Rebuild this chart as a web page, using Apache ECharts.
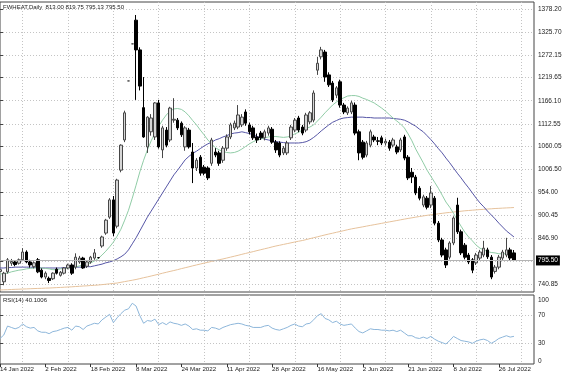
<!DOCTYPE html>
<html><head><meta charset="utf-8">
<script src="https://cdn.jsdelivr.net/npm/echarts@6/dist/echarts.min.js"></script>
<style>html,body{margin:0;padding:0;background:#fff}#c{width:564px;height:376px}</style>
</head><body><div id="c"></div>
<script>
const symbolTitle = 'FWHEAT,Daily  813.00 819.75 795.13 795.50';
const rsiTitle = 'RSI(14) 40.1006';
const holidays = ['2022-01-17','2022-04-15','2022-05-30','2022-06-20','2022-07-04'];
const tickLabels = ['14 Jan 2022','2 Feb 2022','18 Feb 2022','8 Mar 2022','24 Mar 2022','11 Apr 2022','28 Apr 2022','16 May 2022','2 Jun 2022','21 Jun 2022','8 Jul 2022','26 Jul 2022'];
const priceLabels = [740.85, 846.90, 900.45, 954.00, 1006.50, 1060.05, 1112.55, 1166.10, 1219.65, 1272.15, 1325.70, 1378.20];
const priceGrid = [740.85, 793.35, 846.90, 900.45, 954.00, 1006.50, 1060.05, 1112.55, 1166.10, 1219.65, 1272.15, 1325.70, 1378.20];
const rsiLabels = [0, 30, 70, 100];
const rsiLevels = [30, 70];
const lastPrice = 795.50;

const open = [770,746,769,789,792,789,797,815,792,781,797,773,757,754,753,775,761,766,778,785,780,792,801,782,792,801,802,829,859,896,936,875,1005,1075,1212,1298,1353,1284,1150,1059,1094,1082,1161,1052,1098,1075,1121,1121,1114,1059,1098,1047,1010,1035,1012,1010,1021,1047,1045,1028,1056,1082,1103,1105,1110,1140,1110,1103,1082,1091,1080,1091,1100,1070,1068,1045,1045,1080,1098,1126,1105,1098,1117,1121,1237,1268,1279,1226,1207,1179,1210,1156,1138,1140,1156,1094,1070,1040,1063,1082,1073,1080,1068,1070,1063,1059,1052,1082,1035,1000,989,963,924,940,924,940,882,843,820,803,836,924,862,831,808,797,790,801,808,820,803,770,780,801,808,820,813];
const high = [780,769,801,799,795,800,824,819,797,793,801,777,770,758,768,779,771,780,788,789,812,806,804,795,806,822,803,853,892,940,945,985,1065,1143,1212,1298,1365,1290,1221,1130,1135,1163,1168,1108,1105,1152,1172,1126,1118,1107,1103,1068,1033,1040,1017,1014,1080,1056,1050,1061,1088,1115,1120,1156,1135,1146,1115,1108,1090,1096,1099,1108,1105,1075,1072,1061,1073,1110,1126,1131,1110,1138,1142,1190,1268,1291,1284,1232,1212,1200,1215,1161,1153,1166,1162,1099,1075,1073,1099,1087,1082,1085,1078,1075,1080,1064,1080,1087,1040,1010,994,968,948,945,968,945,887,848,825,840,898,941,867,836,813,801,813,820,841,825,808,785,808,820,848,825,819.75];
const low = [762,738,765,783,782,786,794,789,779,777,766,754,752,743,750,763,758,763,775,762,775,788,776,778,788,797,800,825,855,892,852,870,1000,1070,1212,1298,1168,1190,1080,1045,1085,1075,1055,1033,1058,1070,1115,1098,1082,1050,1055,975,1003,992,993,982,1015,1035,1015,1022,1050,1077,1098,1100,1105,1108,1088,1075,1068,1075,1074,1085,1066,1045,1035,1040,1040,1075,1093,1093,1086,1093,1112,1116,1226,1262,1210,1198,1163,1172,1150,1135,1133,1135,1086,1028,1030,1035,1058,1070,1063,1063,1062,1050,1058,1042,1047,1028,982,975,947,935,919,914,917,877,838,803,778,798,831,857,808,798,787,766,785,796,803,799,752,765,775,796,803,796,795.13];
const close = [774,766,797,793,786,797,815,792,785,790,769,757,766,749,766,766,768,778,785,766,803,801,778,792,803,813,802,850,889,936,859,982,1063,1138,1212,1298,1284,1200,1082,1128,1126,1161,1059,1103,1063,1149,1123,1103,1087,1103,1059,1010,1028,998,998,987,1075,1040,1021,1056,1082,1110,1114,1133,1128,1114,1094,1080,1075,1080,1094,1103,1070,1052,1040,1056,1068,1105,1121,1098,1091,1133,1138,1184,1253,1284,1221,1203,1168,1196,1156,1140,1149,1161,1091,1045,1035,1068,1094,1075,1072,1068,1072,1056,1075,1047,1075,1033,987,989,952,940,943,919,952,882,843,808,785,836,894,862,813,803,792,773,808,815,824,804,757,780,803,815,820,801,795.5];
const maFast = [764,765,766,769,771,773,774,776,777,778,778,778,777,776,774,774,776,777,778,779,780,783,785,787,790,794,800,808,817,827,838,852,868,889,912,940,970,1001,1028,1052,1073,1091,1107,1121,1133,1142,1147,1148,1146,1140,1131,1120,1110,1098,1087,1075,1066,1057,1052,1048,1046,1045,1046,1049,1054,1060,1066,1071,1075,1077,1080,1082,1083,1083,1082,1081,1082,1084,1089,1093,1098,1102,1105,1110,1119,1128,1138,1147,1156,1163,1169,1173,1177,1178,1178,1176,1172,1169,1165,1161,1155,1149,1142,1134,1126,1119,1112,1103,1089,1073,1054,1038,1022,1005,991,977,963,947,931,919,905,889,875,861,850,841,831,824,820,816,814,813,811,811,811,813,813];
const maMid = [778,778,779,779,780,780,780,780,780,779,779,778,778,778,778,778,778,779,779,779,780,780,780,781,781,783,785,787,790,792,795,799,804,810,820,834,848,864,880,896,910,924,938,952,966,980,994,1005,1017,1029,1037,1044,1049,1055,1061,1066,1070,1075,1078,1082,1085,1089,1091,1092,1094,1092,1090,1087,1083,1080,1077,1075,1073,1071,1070,1069,1068,1068,1068,1068,1069,1071,1075,1081,1088,1096,1103,1110,1116,1120,1124,1126,1127,1128,1128,1128,1128,1127,1127,1126,1126,1126,1126,1126,1125,1124,1123,1121,1117,1112,1107,1100,1094,1085,1076,1066,1055,1045,1033,1022,1010,998,987,975,964,952,940,929,920,910,901,892,882,873,864,857,850];
const maSlow = [726.9,727.4,727.6,728.1,728.5,728.8,729.2,729.5,729.9,730.2,730.6,730.8,731.3,731.5,732,732.5,732.9,733.4,733.9,734.3,735,735.5,736.2,736.6,737.3,737.8,738.5,739.4,740.3,741.3,742.2,743.1,744.8,746.4,748,749.6,751.3,753.3,755.4,757.3,759.4,761.5,763.6,765.9,768,770.1,772.1,774.2,776.5,778.6,780.7,783,785.1,787.2,789.3,791.2,793.3,795.1,797.2,799,801.1,803.2,805.3,807.4,809.7,811.8,813.9,816,818.3,820.4,822.5,824.6,826.9,829,830.8,832.7,834.5,836.4,838.3,840.1,841.7,843.8,846.1,848.2,850.3,852.6,854.7,856.8,858.7,860.8,862.6,864.7,866.8,868.7,870.3,871.9,873.5,875.2,876.8,878.4,880,881.6,883.3,884.9,886.5,888.1,889.8,891.4,893,894.4,896,897.4,898.8,900.2,901.4,902.5,903.7,904.8,906,906.9,907.9,908.8,909.7,910.7,911.4,912.1,912.8,913.5,914.1,914.8,915.3,916,916.4,916.9,917.4,917.8,918.3];
const rsi = [37,42,55,53,51,53,58,54,52,53,48,46,46,44,47,48,50,52,53,49,55,54,50,55,57,59,58,64,68,72,60,67,73,78,80,88,84,70,59,63,62,65,57,60,57,61,59,58,56,58,55,50,51,49,49,48,53,52,50,53,55,57,58,59,58,56,55,53,53,53,55,56,52,50,49,51,53,56,58,55,54,58,59,64,70,73,66,64,60,62,58,56,57,58,52,47,45,48,51,50,50,49,49,48,49,47,49,45,41,41,38,37,39,37,40,36,33,31,29,34,40,37,34,33,32,30,33,35,36,34,30,33,37,39,41,39,40.1006];

// trading calendar of the bars
const MON = ['Jan','Feb','Mar','Apr','May','Jun','Jul','Aug','Sep','Oct','Nov','Dec'];
const dates = [];
(function(){
  const d = new Date(Date.UTC(2022,0,14));
  while (dates.length < close.length) {
    const dow = d.getUTCDay(), iso = d.toISOString().slice(0,10);
    if (dow !== 0 && dow !== 6 && holidays.indexOf(iso) < 0)
      dates.push(d.getUTCDate() + ' ' + MON[d.getUTCMonth()] + ' ' + d.getUTCFullYear());
    d.setUTCDate(d.getUTCDate() + 1);
  }
})();
const tickIdx = tickLabels.map(t => dates.indexOf(t));
const gridIdx = tickIdx.map(i => i + 6);

const FONT = '"Liberation Sans", Arial, sans-serif';
const GRIDLINE = {show: true, lineStyle: {color: '#c4c4c4', width: 1, type: [1, 2]}};
const X_MIN = 0, X_MAX = 141.3;
const candles = open.map((o, i) => [i, o, close[i], low[i], high[i]]);
const pair = arr => arr.map((v, i) => [i, v]);

const chart = echarts.init(document.getElementById('c'), null, {renderer: 'canvas'});
chart.setOption({
  animation: false,
  backgroundColor: '#ffffff',
  textStyle: {fontFamily: FONT},
  graphic: [
    {type: 'text', left: 3, top: 4, z: 100, style: {text: symbolTitle, fontSize: 6, fill: '#222', fontFamily: FONT}},
    {type: 'text', left: 3, top: 297, z: 100, style: {text: rsiTitle, fontSize: 6, fill: '#222', fontFamily: FONT}}
  ],
  grid: [
    {left: 0, top: 2, width: 534, height: 290, show: true, borderColor: '#444', borderWidth: 1, containLabel: false, outerBoundsMode: 'none'},
    {left: 0, top: 295, width: 534, height: 69, show: true, borderColor: '#444', borderWidth: 1, containLabel: false, outerBoundsMode: 'none'}
  ],
  xAxis: [
    {type: 'value', gridIndex: 0, min: X_MIN, max: X_MAX, axisLine: {show: false},
     axisTick: {show: false, customValues: gridIdx}, axisLabel: {show: false}, splitLine: GRIDLINE},
    {type: 'value', gridIndex: 1, min: X_MIN, max: X_MAX, axisLine: {show: false},
     axisTick: {show: true, customValues: tickIdx, length: 3, lineStyle: {color: '#333'}},
     axisLabel: {show: true, customValues: tickIdx, formatter: v => dates[Math.round(v)], align: 'left', margin: 2, fontSize: 6.2, color: '#222', fontFamily: FONT},
     splitLine: {show: false}},
    {type: 'value', gridIndex: 1, min: X_MIN, max: X_MAX, axisLine: {show: false},
     axisTick: {show: false, customValues: gridIdx}, axisLabel: {show: false}, splitLine: GRIDLINE}
  ],
  yAxis: [
    {type: 'value', gridIndex: 0, position: 'right', min: 722.29, max: 1395.14, axisLine: {show: false},
     axisTick: {show: true, customValues: priceGrid, length: 3, lineStyle: {color: '#444'}},
     axisLabel: {customValues: priceLabels, formatter: v => v.toFixed(2), fontSize: 6.5, color: '#222', margin: 4, fontFamily: FONT},
     splitLine: GRIDLINE},
    {type: 'value', gridIndex: 1, position: 'right', min: 0, max: 100, axisLine: {show: false},
     axisTick: {show: true, customValues: rsiLevels, length: 3, lineStyle: {color: '#444'}},
     axisLabel: {customValues: rsiLabels, fontSize: 6.5, color: '#222', margin: 4, fontFamily: FONT,
       formatter: v => v === 100 ? '{top|100}' : (v === 0 ? '{bot|0}' : String(v)),
       rich: {top: {fontSize: 6.5, padding: [10, 0, 0, 0]}, bot: {fontSize: 6.5, padding: [0, 0, 5, 0]}}},
     splitLine: GRIDLINE}
  ],
  series: [
    {type: 'line', xAxisIndex: 0, yAxisIndex: 0, data: pair(maSlow), showSymbol: false, symbol: 'none',
     lineStyle: {color: '#e6c29c', width: 1}, z: 2, silent: true},
    {type: 'line', xAxisIndex: 0, yAxisIndex: 0, data: pair(maMid), showSymbol: false, symbol: 'none',
     lineStyle: {color: '#5656a6', width: 1}, z: 2, silent: true},
    {type: 'line', xAxisIndex: 0, yAxisIndex: 0, data: pair(maFast), showSymbol: false, symbol: 'none',
     lineStyle: {color: '#90cca6', width: 1}, z: 2, silent: true},
    {type: 'candlestick', xAxisIndex: 0, yAxisIndex: 0, data: candles, encode: {x: 0, y: [1, 2, 3, 4]},
     barWidth: 3, z: 3,
     itemStyle: {color: '#d6d6d6', color0: '#000000', borderColor: '#474747', borderColor0: '#000000', borderWidth: 1},
     markLine: {silent: true, symbol: ['none', 'none'], animation: false,
       data: [{yAxis: lastPrice}],
       lineStyle: {color: '#b4b4b4', type: 'solid', width: 1},
       label: {show: true, position: 'end', formatter: lastPrice.toFixed(2), color: '#fff', backgroundColor: '#000',
               padding: [2, 2, 1, 2], fontSize: 6.5, distance: 2, fontFamily: FONT}}},
    {type: 'line', xAxisIndex: 1, yAxisIndex: 1, data: pair(rsi), showSymbol: false, symbol: 'none',
     lineStyle: {color: '#8db6da', width: 1}, silent: true}
  ]
});
</script>
</body></html>
